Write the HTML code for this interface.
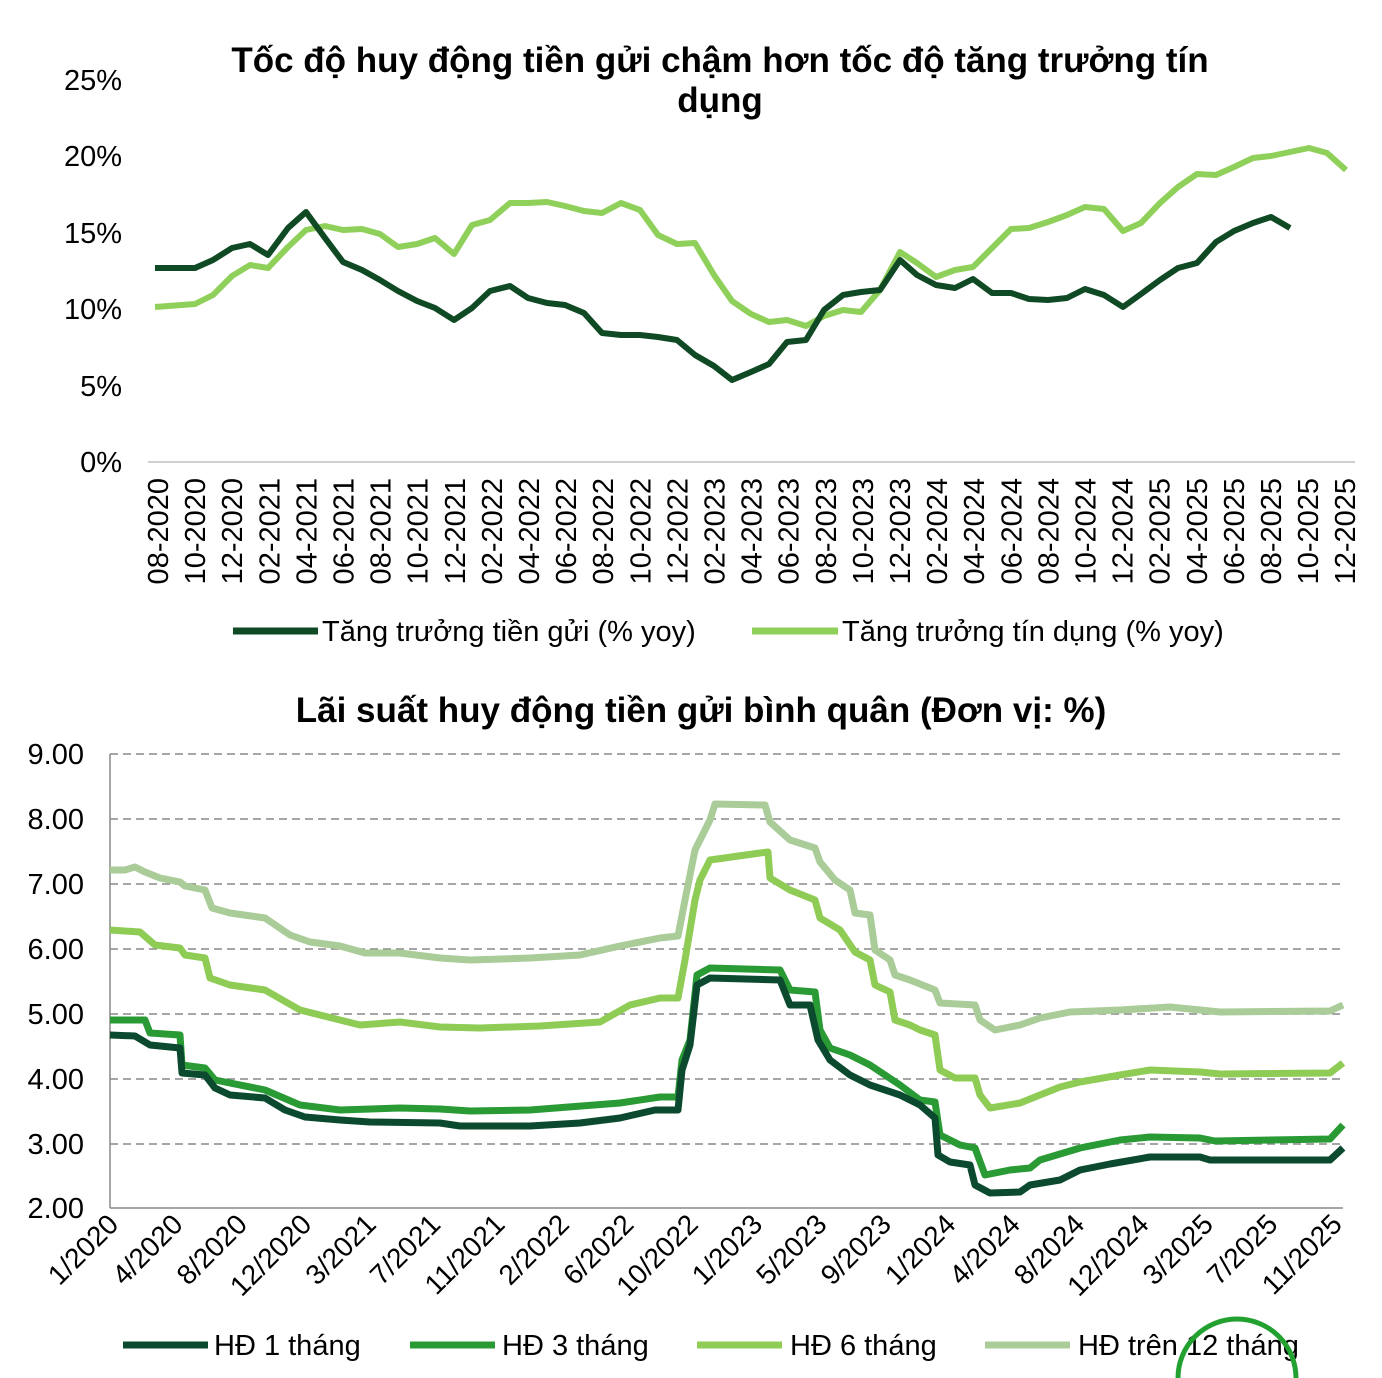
<!DOCTYPE html>
<html><head><meta charset="utf-8"><style>body{margin:0;background:#fff}svg{display:block}text{font-family:"Liberation Sans",Arial,sans-serif}</style></head>
<body>
<svg width="1382" height="1378" viewBox="0 0 1382 1378" xmlns="http://www.w3.org/2000/svg">
<rect width="1382" height="1378" fill="#fff"/>
<!-- TOP CHART -->
<text x="720" y="72" font-size="35" font-weight="bold" text-anchor="middle">Tốc độ huy động tiền gửi chậm hơn tốc độ tăng trưởng tín</text>
<text x="720" y="112" font-size="35" font-weight="bold" text-anchor="middle">dụng</text>
<g font-size="29" text-anchor="end">
<text x="122" y="90">25%</text><text x="122" y="166">20%</text><text x="122" y="243">15%</text>
<text x="122" y="319">10%</text><text x="122" y="396">5%</text><text x="122" y="472">0%</text>
</g>
<line x1="148" y1="462" x2="1355" y2="462" stroke="#d0d0d0" stroke-width="2"/>
<g font-size="29" text-anchor="end" id="tx"></g>
<polyline fill="none" stroke="#8fd05a" stroke-width="6" stroke-linejoin="round" points="155,307 195,304 213,295 232,276 250,265 268,268 288,247 306,230 325,226 343,230 362,229 380,234 398,247 417,244 435,238 454,254 472,225 490,220 510,203 528,203 547,202 565,206 584,211 602,213 621,203 640,210 658,235 677,244 695,243 714,275 732,301 751,314 769,322 787,320 806,326 824,316 843,310 861,312 880,290 900,252 917,263 936,277 955,270 973,267 992,248 1011,229 1029,228 1048,222 1067,215 1085,207 1104,209 1123,231 1141,223 1160,203 1178,187 1197,174 1216,175 1234,167 1253,158 1271,156 1290,152 1309,148 1327,153 1346,170"/>
<polyline fill="none" stroke="#0f4a25" stroke-width="6" stroke-linejoin="round" points="155,268 195,268 213,260 232,248 250,244 268,255 288,228 306,212 325,238 343,262 362,270 380,280 398,291 417,301 435,308 454,320 472,308 490,291 510,286 528,298 547,303 565,305 584,313 602,333 621,335 640,335 658,337 677,340 695,355 714,366 732,380 751,372 769,364 787,342 806,340 824,310 843,295 861,292 880,290 900,260 917,275 936,285 955,288 973,279 992,293 1011,293 1029,299 1048,300 1067,298 1085,289 1104,295 1123,307 1141,294 1160,280 1178,268 1197,263 1216,242 1234,231 1253,223 1271,217 1290,228"/>
<line x1="233" y1="631" x2="318" y2="631" stroke="#0f4a25" stroke-width="7"/>
<text x="322" y="641" font-size="29">Tăng trưởng tiền gửi (% yoy)</text>
<line x1="752" y1="631" x2="838" y2="631" stroke="#8fd05a" stroke-width="7"/>
<text x="842" y="641" font-size="29">Tăng trưởng tín dụng (% yoy)</text>

<!-- BOTTOM CHART -->
<text x="701" y="722" font-size="35" font-weight="bold" text-anchor="middle">Lãi suất huy động tiền gửi bình quân (Đơn vị: %)</text>
<g stroke="#888" stroke-width="1.5" stroke-dasharray="8,5">
<line x1="110" y1="754" x2="1343" y2="754"/><line x1="110" y1="819" x2="1343" y2="819"/><line x1="110" y1="884" x2="1343" y2="884"/>
<line x1="110" y1="949" x2="1343" y2="949"/><line x1="110" y1="1014" x2="1343" y2="1014"/><line x1="110" y1="1079" x2="1343" y2="1079"/>
<line x1="110" y1="1144" x2="1343" y2="1144"/>
</g>
<line x1="110" y1="754" x2="110" y2="1208" stroke="#888" stroke-width="1.5"/>
<line x1="110" y1="1208" x2="1343" y2="1208" stroke="#888" stroke-width="1.5"/>
<g font-size="29" text-anchor="end">
<text x="84" y="764">9.00</text><text x="84" y="829">8.00</text><text x="84" y="894">7.00</text><text x="84" y="959">6.00</text>
<text x="84" y="1024">5.00</text><text x="84" y="1089">4.00</text><text x="84" y="1154">3.00</text><text x="84" y="1218">2.00</text>
</g>
<g font-size="28" text-anchor="end" id="bx"></g>
<polyline fill="none" stroke="#a9cc98" stroke-width="7" stroke-linejoin="round" points="110,870 125,870 135,867 145,872 160,878 180,882 185,886 205,890 212,908 230,913 265,918 290,935 310,942 340,946 365,953 400,953 440,958 470,960 530,958 580,955 620,946 660,938 678,936 685,900 695,850 710,820 715,804 765,805 770,822 790,840 815,848 820,862 835,880 850,890 855,913 870,915 875,950 890,960 895,975 910,980 935,990 940,1003 975,1005 980,1020 995,1030 1020,1025 1040,1018 1070,1012 1120,1010 1170,1007 1200,1010 1220,1012 1330,1011 1343,1005"/>
<polyline fill="none" stroke="#8fcc55" stroke-width="7" stroke-linejoin="round" points="110,930 140,932 155,945 180,948 185,955 205,958 210,978 230,985 265,990 300,1010 340,1020 360,1025 400,1022 440,1027 480,1028 540,1026 600,1022 630,1005 660,998 678,998 685,960 695,900 700,880 710,860 760,853 768,852 770,878 790,890 815,900 820,918 840,930 855,952 870,960 875,985 890,992 895,1020 910,1025 920,1030 935,1035 940,1070 955,1078 975,1078 980,1095 990,1108 1020,1103 1040,1095 1060,1087 1080,1082 1120,1075 1150,1070 1200,1072 1220,1074 1330,1073 1343,1063"/>
<polyline fill="none" stroke="#2a9a35" stroke-width="7" stroke-linejoin="round" points="110,1020 145,1020 150,1033 180,1035 182,1065 205,1068 215,1080 265,1090 300,1105 340,1110 400,1108 440,1109 470,1111 530,1110 620,1103 660,1097 678,1097 682,1060 690,1040 697,975 710,968 780,970 790,990 815,992 820,1030 830,1048 850,1055 870,1065 900,1085 920,1100 935,1102 940,1135 960,1145 975,1148 985,1175 1010,1170 1030,1168 1040,1160 1080,1148 1120,1140 1150,1137 1200,1138 1215,1141 1330,1139 1343,1125"/>
<polyline fill="none" stroke="#0b4a2e" stroke-width="7" stroke-linejoin="round" points="110,1035 135,1036 150,1045 180,1048 182,1073 205,1075 215,1088 230,1095 265,1098 285,1110 305,1117 340,1120 370,1122 440,1123 460,1126 530,1126 580,1123 620,1118 655,1110 678,1110 682,1070 690,1045 697,985 710,978 780,980 790,1005 810,1005 818,1040 830,1060 850,1075 870,1085 900,1095 920,1105 935,1118 938,1155 950,1162 970,1165 975,1185 990,1193 1020,1192 1030,1185 1060,1180 1080,1170 1110,1164 1150,1157 1200,1157 1210,1160 1330,1160 1343,1148"/>
<g font-size="29">
<line x1="123" y1="1345" x2="208" y2="1345" stroke="#0b4a2e" stroke-width="7"/><text x="214" y="1355">HĐ 1 tháng</text>
<line x1="410" y1="1345" x2="495" y2="1345" stroke="#2a9a35" stroke-width="7"/><text x="502" y="1355">HĐ 3 tháng</text>
<line x1="697" y1="1345" x2="782" y2="1345" stroke="#8fcc55" stroke-width="7"/><text x="790" y="1355">HĐ 6 tháng</text>
<line x1="985" y1="1345" x2="1070" y2="1345" stroke="#a9cc98" stroke-width="7"/><text x="1078" y="1355">HĐ trên 12 tháng</text>
</g>
<path d="M1178,1378 A58,58 0 0 1 1296,1378" fill="none" stroke="#22a030" stroke-width="5"/>
</svg>
<script>
var tl=["08-2020","10-2020","12-2020","02-2021","04-2021","06-2021","08-2021","10-2021","12-2021","02-2022","04-2022","06-2022","08-2022","10-2022","12-2022","02-2023","04-2023","06-2023","08-2023","10-2023","12-2023","02-2024","04-2024","06-2024","08-2024","10-2024","12-2024","02-2025","04-2025","06-2025","08-2025","10-2025","12-2025"];
var g=document.getElementById("tx"),ns="http://www.w3.org/2000/svg";
tl.forEach(function(s,i){var x=158+i*37.1+10,t=document.createElementNS(ns,"text");t.setAttribute("transform","translate("+x+",478) rotate(-90)");t.textContent=s;g.appendChild(t);});
var bl=["1/2020","4/2020","8/2020","12/2020","3/2021","7/2021","11/2021","2/2022","6/2022","10/2022","1/2023","5/2023","9/2023","1/2024","4/2024","8/2024","12/2024","3/2025","7/2025","11/2025"];
var b=document.getElementById("bx");
bl.forEach(function(s,i){var x=120+i*64.4,t=document.createElementNS(ns,"text");t.setAttribute("transform","translate("+x+",1226) rotate(-45)");t.textContent=s;b.appendChild(t);});
</script>
</body></html>
